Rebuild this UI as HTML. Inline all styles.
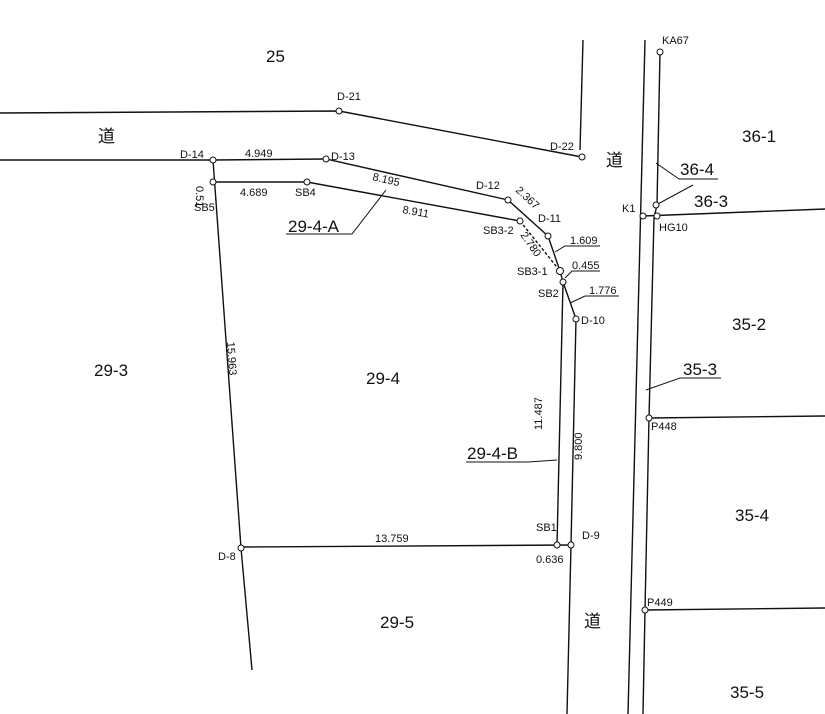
<!DOCTYPE html>
<html><head><meta charset="utf-8"><style>
html,body{margin:0;padding:0;background:#fff}
svg{display:block}
text{font-family:"Liberation Sans","Noto Sans CJK JP",sans-serif;fill:#111}
.s{font-size:11px}
.b{font-size:17px}
</style></head><body>
<svg width="825" height="714" viewBox="0 0 825 714" xmlns="http://www.w3.org/2000/svg">
<g stroke="#111" stroke-width="1.4" fill="none">
<polyline points="0,113 339,111 582,157"/>
<line x1="583" y1="40" x2="580" y2="150"/>
<polyline points="0,160 213,160 326,159 508,200 548,236 560,271"/>
<polyline points="213,182 307,182 520,221"/>
<line x1="520" y1="221" x2="560" y2="271" stroke-dasharray="3,2"/>
<polyline points="560,271 563,282 576,319"/>
<polyline points="563,282 557,545"/>
<polyline points="576,319 571,545 567,714"/>
<polyline points="213,160 241,548 252,670"/>
<line x1="241" y1="547" x2="571" y2="545"/>
<line x1="645" y1="40" x2="628" y2="714"/>
<polyline points="660,52 657,205 654,218 649,418 645,610 643,714"/>
<line x1="643" y1="216" x2="825" y2="209"/>
<line x1="649" y1="418" x2="825" y2="416"/>
<line x1="645" y1="610" x2="825" y2="608"/>
<polyline points="656,163 679,179 718,179" stroke-width="1"/>
<line x1="656" y1="205" x2="693" y2="185" stroke-width="1"/>
<polyline points="646,390 680,378 721,378" stroke-width="1"/>
<polyline points="386,190 352,234 286,234" stroke-width="1"/>
<polyline points="555,252 565,246 600,246" stroke-width="1"/>
<polyline points="565,278 572,271 600,271" stroke-width="1"/>
<polyline points="570,303 585,296 619,296" stroke-width="1"/>
<polyline points="557,460 528,462 466,462" stroke-width="1"/>
</g>
<g stroke="#111" stroke-width="1" fill="#fff">
<circle cx="339" cy="111" r="3"/><circle cx="582" cy="157" r="3"/>
<circle cx="213" cy="160" r="3"/><circle cx="326" cy="159" r="3"/>
<circle cx="508" cy="200" r="3"/><circle cx="548" cy="236" r="3"/>
<circle cx="560" cy="271" r="3.5"/><circle cx="520" cy="221" r="3"/>
<circle cx="213" cy="182" r="3"/><circle cx="307" cy="182" r="3"/>
<circle cx="563" cy="282" r="3"/><circle cx="576" cy="319" r="3"/>
<circle cx="557" cy="545" r="3"/><circle cx="571" cy="545" r="3"/>
<circle cx="241" cy="548" r="3"/><circle cx="660" cy="52" r="3"/>
<circle cx="656" cy="205" r="3"/><circle cx="643" cy="216" r="3"/>
<circle cx="657" cy="216" r="3"/><circle cx="649" cy="418" r="3"/>
<circle cx="645" cy="610" r="3"/>
</g>
<g class="s">
<text x="337" y="100">D-21</text>
<text x="550" y="150">D-22</text>
<text x="180" y="158">D-14</text>
<text x="245" y="157">4.949</text>
<text x="331" y="160">D-13</text>
<text x="372" y="180" transform="rotate(13 372 180)">8.195</text>
<text x="476" y="189">D-12</text>
<text x="515" y="191" transform="rotate(43 515 191)">2.367</text>
<text x="538" y="222">D-11</text>
<text x="570" y="244">1.609</text>
<text x="572" y="269">0.455</text>
<text x="589" y="294">1.776</text>
<text x="581" y="324">D-10</text>
<text x="240" y="196">4.689</text>
<text x="295" y="196">SB4</text>
<text x="402" y="213" transform="rotate(10 402 213)">8.911</text>
<text x="483" y="234">SB3-2</text>
<text x="520" y="235" transform="rotate(55 520 235)">2.780</text>
<text x="517" y="275">SB3-1</text>
<text x="538" y="297">SB2</text>
<text x="196" y="186" transform="rotate(90 196 186)">0.51</text>
<text x="194" y="211">SB5</text>
<text x="227" y="342" transform="rotate(86 227 342)">15.963</text>
<text x="542" y="430" transform="rotate(-90 542 430)">11.487</text>
<text x="582" y="460" transform="rotate(-90 582 460)">9.800</text>
<text x="375" y="542">13.759</text>
<text x="536" y="531">SB1</text>
<text x="582" y="539">D-9</text>
<text x="536" y="563">0.636</text>
<text x="218" y="560">D-8</text>
<text x="662" y="44">KA67</text>
<text x="622" y="212">K1</text>
<text x="659" y="231">HG10</text>
<text x="651" y="430">P448</text>
<text x="647" y="606">P449</text>
</g>
<g class="b">
<text x="266" y="62">25</text>
<text x="98" y="142">道</text>
<text x="742" y="142">36-1</text>
<text x="606" y="166">道</text>
<text x="680" y="175">36-4</text>
<text x="694" y="207">36-3</text>
<text x="288" y="232">29-4-A</text>
<text x="732" y="330">35-2</text>
<text x="94" y="376">29-3</text>
<text x="366" y="384">29-4</text>
<text x="683" y="375">35-3</text>
<text x="467" y="459">29-4-B</text>
<text x="735" y="521">35-4</text>
<text x="380" y="628">29-5</text>
<text x="584" y="627">道</text>
<text x="730" y="698">35-5</text>
</g>
</svg>
</body></html>
